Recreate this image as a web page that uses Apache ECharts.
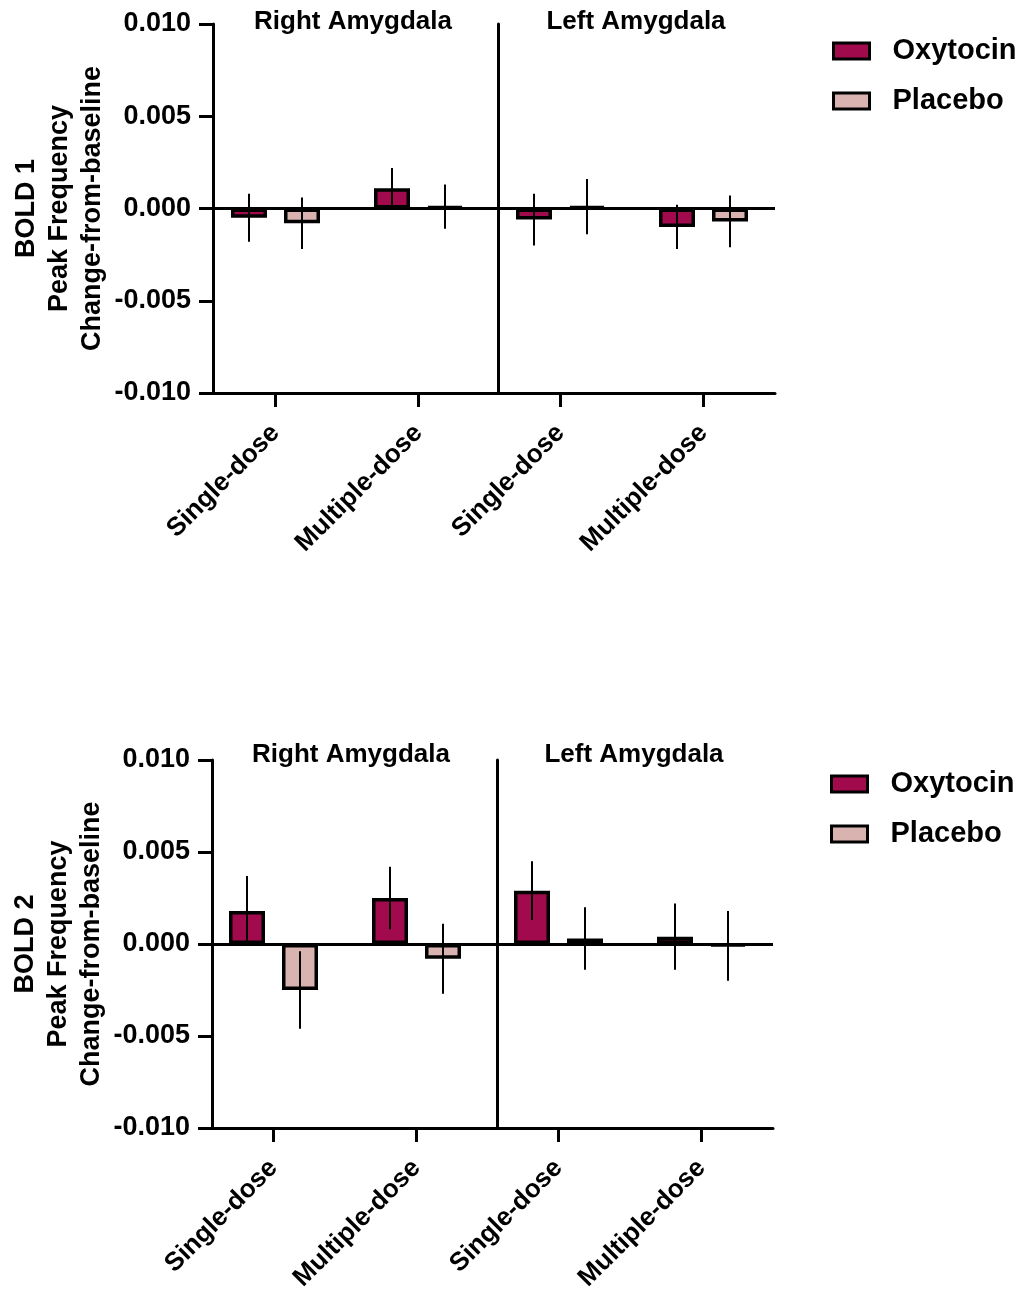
<!DOCTYPE html>
<html>
<head>
<meta charset="utf-8">
<script src="https://cdn.jsdelivr.net/npm/echarts@6/dist/echarts.min.js"></script>
<style>
  html, body { margin: 0; padding: 0; background: #fff; }
  #chart { width: 1024px; height: 1296px; }
</style>
</head>
<body>
<div id="chart"></div>
<script>
// Peak frequency change-from-baseline, amygdala, oxytocin vs placebo (mean ± SEM).
const doses = ['Single-dose', 'Multiple-dose'];
const regions = ['Right Amygdala', 'Left Amygdala'];
const groups = ['Oxytocin', 'Placebo'];
const yTicks = [-0.010, -0.005, 0.000, 0.005, 0.010];

// order: right single, right multiple, left single, left multiple
const bold1OxyMean = [-0.0005, 0.0011, -0.0006, -0.0010];
const bold1OxySem  = [0.0013, 0.0011, 0.0014, 0.0012];
const bold1PlaMean = [-0.0008, 0.0001, 0.0001, -0.0007];
const bold1PlaSem  = [0.0014, 0.0012, 0.0015, 0.0014];

const bold2OxyMean = [0.0018, 0.0025, 0.0029, 0.0004];
const bold2OxySem  = [0.0019, 0.0017, 0.0016, 0.0018];
const bold2PlaMean = [-0.0025, -0.0008, 0.0003, -0.0001];
const bold2PlaSem  = [0.0021, 0.0019, 0.0017, 0.0019];

const OXY = '#a10a4d';
const PLA = '#d9b3b0';
const FONT = '"Liberation Sans", Arial, sans-serif';
const BAR_W = 36;          // outer width (echarts insets the border)
const BAR_PITCH = 53;      // centre-to-centre of the two bars in a group
const BAR_DX = BAR_PITCH / 2;

const panels = [
  { name: 'BOLD 1', oxy: [bold1OxyMean, bold1OxySem], pla: [bold1PlaMean, bold1PlaSem],
    top: 24, height: 369, lefts: [204, 489], offset: -9,
    titleY: 22, titleX: [353, 636], legendX: 832, legendY: 36 },
  { name: 'BOLD 2', oxy: [bold2OxyMean, bold2OxySem], pla: [bold2PlaMean, bold2PlaSem],
    top: 760, height: 368, lefts: [202, 487], offset: -10,
    titleY: 755, titleX: [351, 634], legendX: 830, legendY: 769 },
];

function errorBars(dx) {
  return function (params, api) {
    const x = api.value(0), m = api.value(1), e = api.value(2);
    const a = api.coord([x, m + e]);
    const b = api.coord([x, m - e]);
    return {
      type: 'line',
      shape: { x1: a[0] + dx, y1: a[1], x2: b[0] + dx, y2: b[1] },
      style: { stroke: '#000', lineWidth: 2 },
    };
  };
}

const grid = [], xAxis = [], yAxis = [], series = [], legend = [], graphic = [];
const axisLine = { show: true, onZero: false, lineStyle: { color: '#000', width: 3 } };

panels.forEach((p) => {
  [0, 1].forEach((side) => {
    const gi = grid.length;
    const idx = [side * 2, side * 2 + 1];
    grid.push({ left: p.lefts[side], top: p.top, width: 286, height: p.height });
    xAxis.push({
      type: 'category', gridIndex: gi, data: doses,
      axisLine,
      axisTick: { show: true, alignWithLabel: true, length: 14, lineStyle: { color: '#000', width: 3 } },
      axisLabel: { rotate: 45, margin: 36, color: '#000', fontFamily: FONT, fontWeight: 'bold', fontSize: 26 },
    });
    yAxis.push({
      type: 'value', gridIndex: gi, min: yTicks[0], max: yTicks[yTicks.length - 1],
      interval: yTicks[1] - yTicks[0], offset: p.offset,
      axisLine: { show: true, lineStyle: { color: '#000', width: 3 } },
      axisTick: { show: side === 0, length: 14, lineStyle: { color: '#000', width: 3 } },
      axisLabel: {
        show: side === 0, margin: 22, color: '#000', fontFamily: FONT, fontWeight: 'bold', fontSize: 27,
        formatter: (v) => v.toFixed(3),
      },
      splitLine: { show: false },
      name: side === 0 ? p.name + '\nPeak Frequency\nChange-from-baseline' : '',
      nameLocation: 'middle', nameGap: 104,
      nameTextStyle: { color: '#000', fontFamily: FONT, fontWeight: 'bold', fontSize: 27, lineHeight: 33 },
    });
    [[groups[0], p.oxy, OXY, -BAR_DX], [groups[1], p.pla, PLA, BAR_DX]].forEach(([name, d, color, dx], k) => {
      const bar = {
        name, type: 'bar', xAxisIndex: gi, yAxisIndex: gi,
        barWidth: BAR_W, barGap: ((BAR_PITCH - BAR_W) / BAR_W * 100) + '%',
        itemStyle: { color, borderColor: '#000', borderWidth: 3.5 },
        data: idx.map((i) => d[0][i]),
        z: 2,
      };
      if (k === 0) {
        bar.markLine = {
          silent: true, symbol: 'none', label: { show: false },
          lineStyle: { color: '#000', width: 3, type: 'solid' },
          data: [{ yAxis: 0 }], z: 4,
        };
      }
      series.push(bar);
      series.push({
        name: name + ' SEM', type: 'custom', xAxisIndex: gi, yAxisIndex: gi,
        renderItem: errorBars(dx), encode: { x: 0, y: 1 },
        data: idx.map((i, j) => [j, d[0][i], d[1][i]]),
        z: 5,
      });
    });
    graphic.push({
      type: 'text', x: p.titleX[side], y: p.titleY,
      style: { text: regions[side], fill: '#000', font: 'bold 26px ' + FONT, align: 'center', verticalAlign: 'middle' },
    });
  });
  legend.push({
    data: groups, orient: 'vertical', left: p.legendX, top: p.legendY, padding: 0,
    icon: 'rect', itemWidth: 36, itemHeight: 16, itemGap: 20, selectedMode: false,
    itemStyle: { borderColor: '#000', borderWidth: 3 },
    textStyle: { color: '#000', fontFamily: FONT, fontWeight: 'bold', fontSize: 29, lineHeight: 30, padding: [0, 0, 0, 18] },
  });
});

const chart = echarts.init(document.getElementById('chart'));
chart.setOption({
  animation: false,
  backgroundColor: '#fff',
  grid, xAxis, yAxis, series, legend, graphic,
});
</script>
</body>
</html>
